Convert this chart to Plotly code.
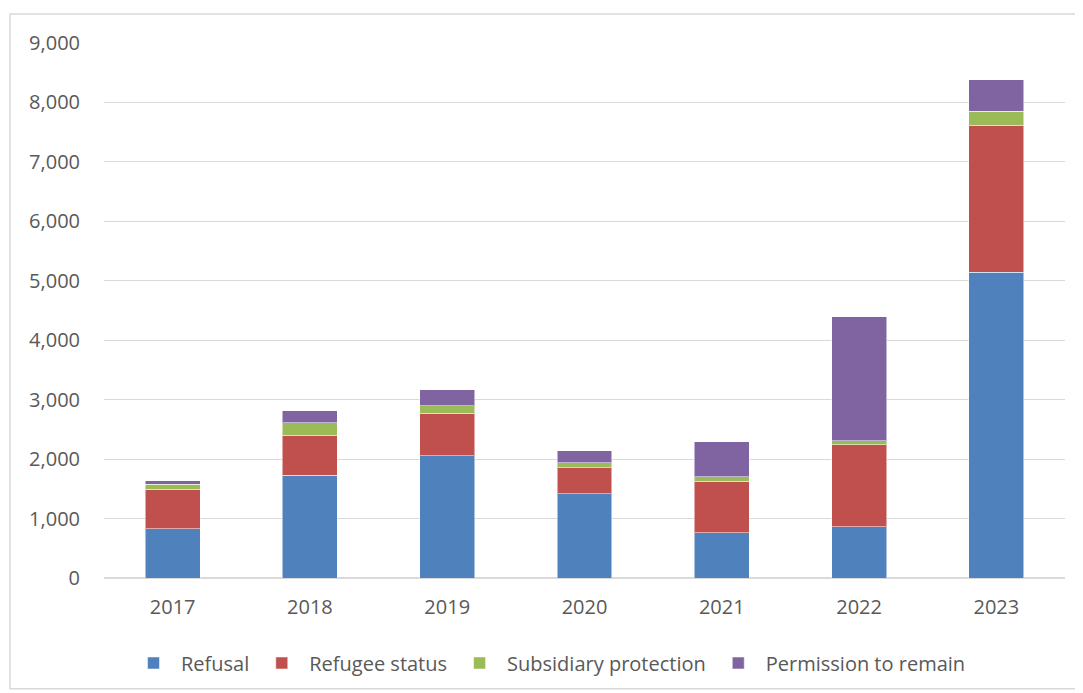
import plotly.graph_objects as go

years = ["2017", "2018", "2019", "2020", "2021", "2022", "2023"]
refusal = [830, 1730, 2055, 1415, 765, 860, 5140]
refugee_status = [665, 670, 715, 440, 860, 1380, 2475]
subsidiary_protection = [80, 210, 130, 80, 75, 70, 235]
permission_to_remain = [65, 200, 270, 205, 590, 2085, 530]

series = [
    ("Refusal", refusal, "#4f81bd"),
    ("Refugee status", refugee_status, "#c0504d"),
    ("Subsidiary protection", subsidiary_protection, "#9bbb59"),
    ("Permission to remain", permission_to_remain, "#8064a2"),
]

fig = go.Figure()
for name, vals, color in series:
    fig.add_trace(go.Bar(
        x=years, y=vals, name=name,
        marker=dict(color=color, line=dict(color="rgba(255,255,255,0.5)", width=1)),
    ))

# page body has an 8px margin, so the figure starts at (8, 8)
OFF = 8
W, H = 1083 - OFF, 693 - OFF
ml, mr, mt, mb = 104 - OFF, 18, 43 - OFF, 114
pw, ph = W - ml - mr, H - mt - mb

def px_x(p):
    return (p - OFF - ml) / pw

def px_y(p):
    return (H - mb - (p - OFF)) / ph

fig.update_layout(
    width=W, height=H,
    barmode="stack", bargap=0.6,
    margin=dict(l=ml, r=mr, t=mt, b=mb),
    paper_bgcolor="white", plot_bgcolor="white",
    font=dict(family="Open Sans, sans-serif", color="#595959", size=20),
    showlegend=True,
    legend=dict(
        orientation="h", x=0.5 - 36 / pw, xanchor="center", y=px_y(663), yanchor="middle",
        font=dict(size=20, color="#595959"), traceorder="normal",
        itemwidth=45,
    ),
    shapes=[dict(
        type="rect", xref="paper", yref="paper",
        x0=px_x(10), x1=px_x(1076), y0=px_y(690), y1=px_y(14),
        line=dict(color="#d9d9d9", width=1.5), layer="below",
    )],
)
fig.update_yaxes(
    range=[0, 9000], dtick=1000, tickformat=",", showgrid=True,
    gridcolor="#d9d9d9", gridwidth=1, zeroline=True, zerolinecolor="#d9d9d9",
    ticks="", ticklabelstandoff=23,
)
fig.update_xaxes(showgrid=False, ticks="", showline=False, ticklabelstandoff=15)

fig.write_html("out.html")
